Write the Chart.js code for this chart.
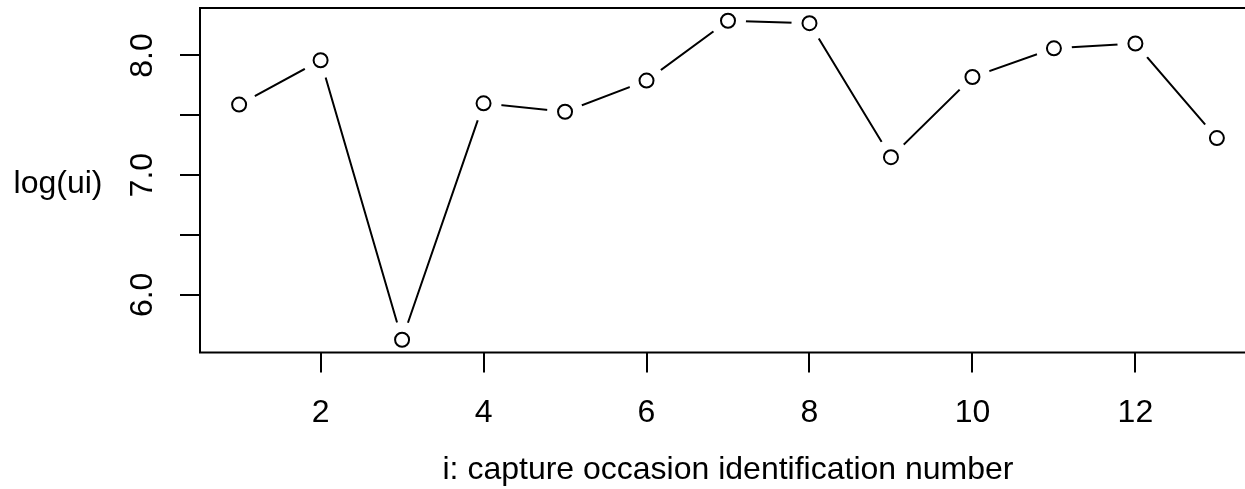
<!DOCTYPE html>
<html>
<head>
<meta charset="utf-8">
<title>log(ui) by capture occasion</title>
<script src="https://cdn.jsdelivr.net/npm/chart.js@4.4.1/dist/chart.umd.min.js"></script>
<style>
    html, body { margin: 0; padding: 0; background: #fff; overflow: hidden; }
    #wrap { position: absolute; left: 0; top: 0; width: 1256px; height: 489px; }
</style>
</head>
<body>
<div id="wrap"><canvas id="occasionChart"></canvas></div>
<script>
// capture occasions and log(ui) for each one
const occasions = [1, 2, 3, 4, 5, 6, 7, 8, 9, 10, 11, 12, 13];
const logUi = [7.59, 7.96, 5.625, 7.60, 7.53, 7.79, 8.29, 8.27, 7.15, 7.82, 8.06, 8.10, 7.31];

// axis ticks
const xTicks = [2, 4, 6, 8, 10, 12];
const yTicks = [6.0, 6.5, 7.0, 7.5, 8.0];
const yLabelled = [6.0, 7.0, 8.0];

const FONT = { family: '"Liberation Sans", Arial, Helvetica, sans-serif', size: 32 };

// base-graphics style limits: data range plus 4% on each side
function padRange(vals) {
    let lo = Math.min(...vals), hi = Math.max(...vals);
    let d = (hi - lo) * 0.04;
    return [lo - d, hi + d];
}
const [xMin, xMax] = padRange(occasions);
const [yMin, yMax] = padRange(logUi);

const points = occasions.map((x, i) => ({ x: x, y: logUi[i] }));

// frame round the plot region and the horizontal y label
const frame = {
    id: 'frame',
    afterDatasetsDraw(chart) {
        const { ctx, chartArea: a } = chart;
        ctx.save();
        ctx.strokeStyle = '#000';
        ctx.lineWidth = 2;
        ctx.strokeRect(a.left, a.top, a.right - a.left, a.bottom - a.top);
        ctx.restore();
    },
    afterDraw(chart) {
        const { ctx, chartArea: a } = chart;
        ctx.save();
        ctx.fillStyle = '#000';
        ctx.font = FONT.size + 'px ' + FONT.family;
        ctx.textAlign = 'center';
        ctx.textBaseline = 'alphabetic';
        ctx.fillText('log(ui)', 58, (a.top + a.bottom) / 2 + 13);
        ctx.restore();
    }
};

// no extra room for overhanging tick labels
function noPadding(s) {
    s.paddingLeft = 0;
    s.paddingRight = 0;
    s.paddingTop = 0;
    s.paddingBottom = 0;
}

document.addEventListener('DOMContentLoaded', function () {
    let ctx = document.getElementById('occasionChart').getContext('2d');

    let data = {
        datasets: [{
            // open circles
            data: points,
            showLine: false,
            pointRadius: 7,
            pointBorderWidth: 2,
            pointBorderColor: '#000',
            pointBackgroundColor: '#fff'
        }, {
            // connecting line, broken around each point
            data: points,
            borderColor: '#000',
            borderWidth: 2,
            tension: 0,
            pointRadius: 18,
            pointBorderWidth: 0,
            pointBackgroundColor: '#fff'
        }]
    };

    let options = {
        responsive: true,
        maintainAspectRatio: false,
        animation: false,
        events: [],
        layout: { autoPadding: false, padding: { top: 8, left: 0, right: 0, bottom: 0 } },
        plugins: { legend: { display: false }, tooltip: { enabled: false } },
        scales: {
            x: {
                type: 'linear',
                min: xMin,
                max: xMax,
                afterBuildTicks: s => { s.ticks = xTicks.map(v => ({ value: v })); },
                afterFit: s => { s.height = 136.5; noPadding(s); },
                grid: { drawOnChartArea: false, tickLength: 20, color: '#000', lineWidth: 2 },
                border: { display: false },
                ticks: { color: '#000', font: FONT, padding: 21, maxRotation: 0, autoSkip: false },
                title: {
                    display: true,
                    text: 'i: capture occasion identification number',
                    color: '#000',
                    font: FONT,
                    padding: { top: 0, bottom: 0 }
                }
            },
            y: {
                type: 'linear',
                min: yMin,
                max: yMax,
                afterBuildTicks: s => { s.ticks = yTicks.map(v => ({ value: v })); },
                afterFit: s => { s.width = 200; noPadding(s); },
                grid: { drawOnChartArea: false, tickLength: 20, color: '#000', lineWidth: 2 },
                border: { display: false },
                ticks: {
                    color: '#000',
                    font: FONT,
                    padding: 15,
                    minRotation: 90,
                    maxRotation: 90,
                    crossAlign: 'center',
                    autoSkip: false,
                    callback: v => yLabelled.includes(v) ? v.toFixed(1) : ''
                }
            }
        }
    };

    new Chart(ctx, {
        type: 'line',
        data: data,
        options: options,
        plugins: [frame]
    });
});
</script>
</body>
</html>
